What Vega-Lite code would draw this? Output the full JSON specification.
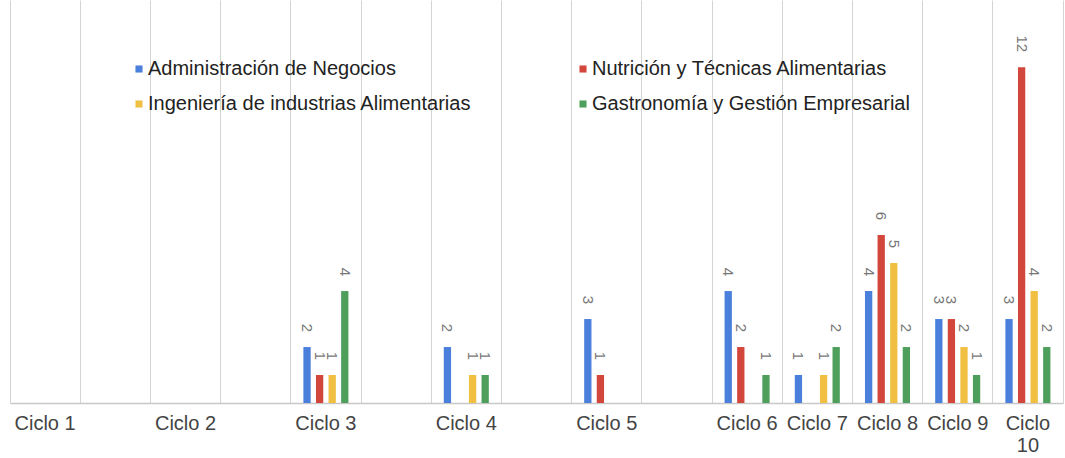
{
  "$schema": "https://vega.github.io/schema/vega-lite/v6.json",
  "width": 1053,
  "height": 403,
  "autosize": {"type": "none"},
  "padding": {"left": 10, "top": 0, "right": 2, "bottom": 55},
  "background": "white",
  "config": {
    "view": {"stroke": null},
    "font": "Liberation Sans"
  },
  "data": {
    "values": [
      {"ciclo": "Ciclo 3", "serie": "Administración de Negocios", "valor": 2},
      {"ciclo": "Ciclo 3", "serie": "Nutrición y Técnicas Alimentarias", "valor": 1},
      {"ciclo": "Ciclo 3", "serie": "Ingeniería de industrias Alimentarias", "valor": 1},
      {"ciclo": "Ciclo 3", "serie": "Gastronomía y Gestión Empresarial", "valor": 4},
      {"ciclo": "Ciclo 4", "serie": "Administración de Negocios", "valor": 2},
      {"ciclo": "Ciclo 4", "serie": "Ingeniería de industrias Alimentarias", "valor": 1},
      {"ciclo": "Ciclo 4", "serie": "Gastronomía y Gestión Empresarial", "valor": 1},
      {"ciclo": "Ciclo 5", "serie": "Administración de Negocios", "valor": 3},
      {"ciclo": "Ciclo 5", "serie": "Nutrición y Técnicas Alimentarias", "valor": 1},
      {"ciclo": "Ciclo 6", "serie": "Administración de Negocios", "valor": 4},
      {"ciclo": "Ciclo 6", "serie": "Nutrición y Técnicas Alimentarias", "valor": 2},
      {"ciclo": "Ciclo 6", "serie": "Gastronomía y Gestión Empresarial", "valor": 1},
      {"ciclo": "Ciclo 7", "serie": "Administración de Negocios", "valor": 1},
      {"ciclo": "Ciclo 7", "serie": "Ingeniería de industrias Alimentarias", "valor": 1},
      {"ciclo": "Ciclo 7", "serie": "Gastronomía y Gestión Empresarial", "valor": 2},
      {"ciclo": "Ciclo 8", "serie": "Administración de Negocios", "valor": 4},
      {"ciclo": "Ciclo 8", "serie": "Nutrición y Técnicas Alimentarias", "valor": 6},
      {"ciclo": "Ciclo 8", "serie": "Ingeniería de industrias Alimentarias", "valor": 5},
      {"ciclo": "Ciclo 8", "serie": "Gastronomía y Gestión Empresarial", "valor": 2},
      {"ciclo": "Ciclo 9", "serie": "Administración de Negocios", "valor": 3},
      {"ciclo": "Ciclo 9", "serie": "Nutrición y Técnicas Alimentarias", "valor": 3},
      {"ciclo": "Ciclo 9", "serie": "Ingeniería de industrias Alimentarias", "valor": 2},
      {"ciclo": "Ciclo 9", "serie": "Gastronomía y Gestión Empresarial", "valor": 1},
      {"ciclo": "Ciclo 10", "serie": "Administración de Negocios", "valor": 3},
      {"ciclo": "Ciclo 10", "serie": "Nutrición y Técnicas Alimentarias", "valor": 12},
      {"ciclo": "Ciclo 10", "serie": "Ingeniería de industrias Alimentarias", "valor": 4},
      {"ciclo": "Ciclo 10", "serie": "Gastronomía y Gestión Empresarial", "valor": 2}
    ]
  },
  "encoding": {
    "x": {
      "field": "ciclo",
      "type": "nominal",
      "sort": null,
      "scale": {
        "domain": ["Ciclo 1", "_a", "Ciclo 2", "_b", "Ciclo 3", "_c", "Ciclo 4", "_d", "Ciclo 5", "_e", "Ciclo 6", "Ciclo 7", "Ciclo 8", "Ciclo 9", "Ciclo 10"],
        "paddingInner": 0,
        "paddingOuter": 0
      },
      "axis": {
        "title": null,
        "bandPosition": 0,
        "grid": true,
        "gridColor": "#d4d4d4",
        "gridWidth": 1,
        "ticks": false,
        "labelAngle": 0,
        "labelPadding": 10,
        "labelFontSize": 20,
        "labelColor": "#444444",
        "labelBaseline": "top",
        "labelLineHeight": 22,
        "labelExpr": "datum.value == 'Ciclo 10' ? ['Ciclo', '10'] : (indexof(datum.value, '_') == 0 ? '' : datum.value)",
        "domainColor": "#c8c8c8",
        "domainWidth": 1.5
      }
    },
    "xOffset": {
      "field": "serie",
      "type": "nominal",
      "scale": {
        "domain": ["Administración de Negocios", "Nutrición y Técnicas Alimentarias", "Ingeniería de industrias Alimentarias", "Gastronomía y Gestión Empresarial"],
        "paddingInner": 0.42,
        "paddingOuter": 1.1
      }
    },
    "y": {
      "field": "valor",
      "type": "quantitative",
      "scale": {"domain": [0, 14.4], "nice": false},
      "axis": {
        "orient": "right",
        "title": null,
        "labels": false,
        "ticks": false,
        "grid": false,
        "domain": true,
        "domainColor": "#d4d4d4",
        "domainWidth": 1
      }
    }
  },
  "layer": [
    {
      "mark": {"type": "bar"},
      "encoding": {
        "color": {
          "field": "serie",
          "type": "nominal",
          "scale": {
            "domain": ["Administración de Negocios", "Nutrición y Técnicas Alimentarias", "Ingeniería de industrias Alimentarias", "Gastronomía y Gestión Empresarial"],
            "range": ["#4a7fdc", "#d3463b", "#f1bf42", "#4e9f5b"]
          },
          "legend": {
            "title": null,
            "orient": "none",
            "direction": "horizontal",
            "legendX": 119,
            "legendY": 59,
            "columns": 2,
            "columnPadding": 101,
            "rowPadding": 15,
            "symbolType": "square",
            "symbolSize": 50,
            "symbolStrokeWidth": 0,
            "labelFontSize": 20,
            "labelColor": "#222222",
            "labelOffset": -1,
            "labelLimit": 500
          }
        }
      }
    },
    {
      "mark": {"type": "text", "angle": 90, "align": "right", "baseline": "middle", "dx": -15, "fontSize": 15, "color": "#777777"},
      "encoding": {
        "text": {"field": "valor", "type": "quantitative"}
      }
    }
  ]
}
